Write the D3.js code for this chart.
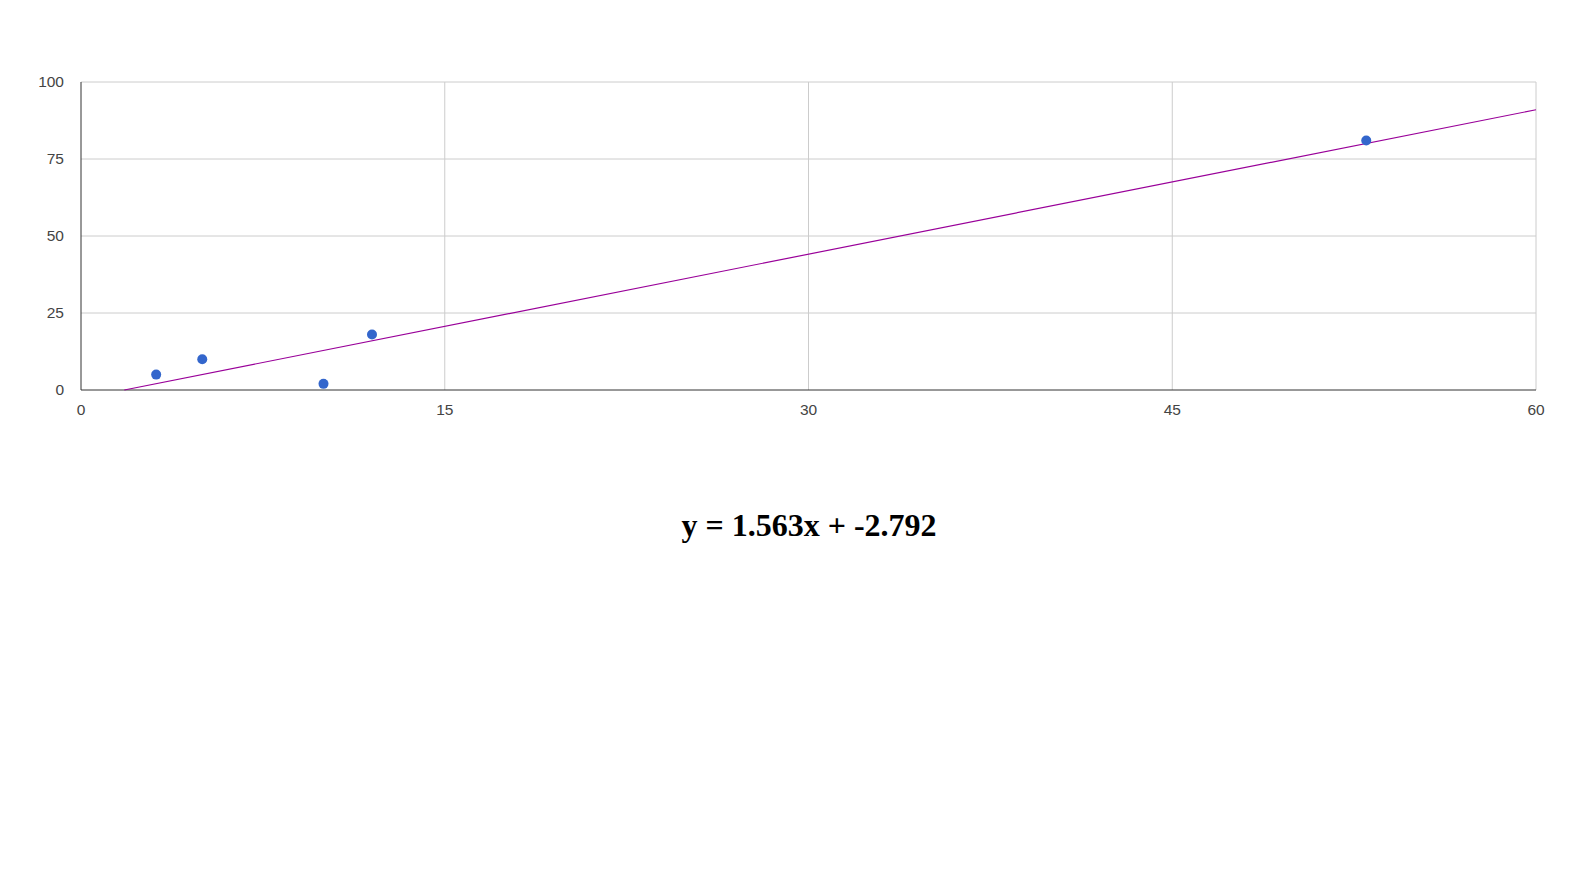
<!DOCTYPE html>
<html>
<head>
<meta charset="utf-8">
<script src="https://cdn.jsdelivr.net/npm/d3@7"></script>
<style>
  body { margin: 0; background: #fff; }
  #chart .tick-label { font-family: "Liberation Sans", Arial, sans-serif; }
  #chart .equation { font-family: "Liberation Serif", "Times New Roman", serif; font-weight: bold; }
</style>
</head>
<body>
<div id="chart"></div>
<script>
// data
const xs = [3.1, 5, 10, 12, 53];
const ys = [5, 10, 2, 18, 81];
const xTicks = [0, 15, 30, 45, 60];
const yTicks = [0, 25, 50, 75, 100];
const slope = 1.563;
const intercept = -2.792;

const width = 1592, height = 877;
const margin = {left: 81, right: 56, top: 82, bottom: 487};

const svg = d3.select('#chart').append('svg')
    .attr('width', width)
    .attr('height', height);

const x = d3.scaleLinear().domain([0, 60]).range([margin.left, width - margin.right]);
const y = d3.scaleLinear().domain([0, 100]).range([height - margin.bottom, margin.top]);

// grid
svg.append('g').selectAll('line')
    .data(yTicks.filter(d => d > 0))
    .join('line')
    .attr('x1', x(0)).attr('x2', x(60))
    .attr('y1', d => y(d)).attr('y2', d => y(d))
    .attr('stroke', '#ccc');
svg.append('g').selectAll('line')
    .data(xTicks.filter(d => d > 0))
    .join('line')
    .attr('x1', d => x(d)).attr('x2', d => x(d))
    .attr('y1', y(0)).attr('y2', y(100))
    .attr('stroke', '#ccc');

// axis lines
svg.append('line')
    .attr('x1', x(0)).attr('x2', x(0)).attr('y1', y(0)).attr('y2', y(100))
    .attr('stroke', '#333');
svg.append('line')
    .attr('x1', x(0)).attr('x2', x(60)).attr('y1', y(0)).attr('y2', y(0))
    .attr('stroke', '#333');

// tick labels
svg.append('g').selectAll('text')
    .data(yTicks)
    .join('text')
    .attr('class', 'tick-label')
    .attr('x', x(0) - 17)
    .attr('y', d => y(d) + 5)
    .attr('text-anchor', 'end')
    .attr('font-size', 15.5)
    .attr('fill', '#444')
    .text(d => d);
svg.append('g').selectAll('text')
    .data(xTicks)
    .join('text')
    .attr('class', 'tick-label')
    .attr('x', d => x(d))
    .attr('y', y(0) + 25)
    .attr('text-anchor', 'middle')
    .attr('font-size', 15.5)
    .attr('fill', '#444')
    .text(d => d);

// trend line, from where it crosses y = 0 to the right edge
const x0 = -intercept / slope;
svg.append('line')
    .attr('x1', x(x0)).attr('y1', y(0))
    .attr('x2', x(60)).attr('y2', y(slope * 60 + intercept))
    .attr('stroke', '#990099')
    .attr('stroke-width', 1.2);

// points
svg.append('g').selectAll('circle')
    .data(xs.map((d, i) => [d, ys[i]]))
    .join('circle')
    .attr('cx', d => x(d[0]))
    .attr('cy', d => y(d[1]))
    .attr('r', 5)
    .attr('fill', '#3366cc');

// equation
svg.append('text')
    .attr('class', 'equation')
    .attr('x', 809)
    .attr('y', 536)
    .attr('text-anchor', 'middle')
    .attr('font-size', 32)
    .attr('fill', '#000')
    .text(`y = ${slope}x + ${intercept}`);
</script>
</body>
</html>
